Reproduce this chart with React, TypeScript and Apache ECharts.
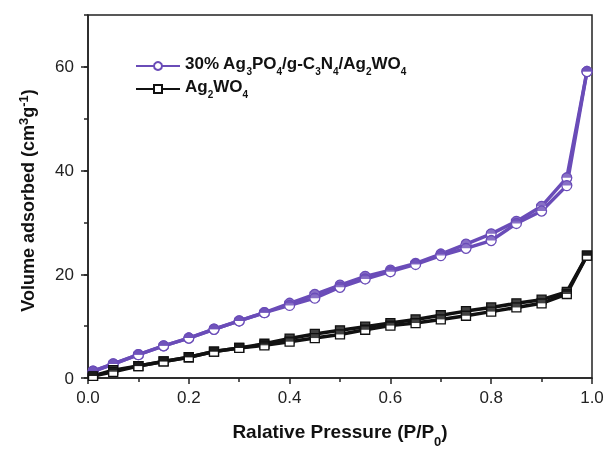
import React, { useEffect, useRef } from "react";
import * as echarts from "echarts";

const pressure = [0.01, 0.05, 0.1, 0.15, 0.2, 0.25, 0.3, 0.35, 0.4, 0.45, 0.5, 0.55, 0.6, 0.65, 0.7, 0.75, 0.8, 0.85, 0.9, 0.95, 0.99];
const compositeUpper = [1.3, 2.7, 4.5, 6.2, 7.7, 9.4, 11.0, 12.6, 14.4, 16.1, 17.9, 19.6, 20.8, 22.1, 23.9, 25.8, 27.8, 30.2, 33.1, 38.6, 59.1];
const compositeLower = [1.3, 2.7, 4.5, 6.2, 7.7, 9.4, 11.0, 12.6, 14.0, 15.4, 17.5, 19.1, 20.5, 21.9, 23.6, 25.0, 26.5, 29.8, 32.2, 37.1, 59.1];
const agwoUpper = [0.4, 1.5, 2.3, 3.2, 4.0, 5.1, 5.8, 6.6, 7.6, 8.5, 9.2, 9.9, 10.6, 11.3, 12.1, 12.9, 13.6, 14.4, 15.1, 16.6, 23.6];
const agwoLower = [0.4, 1.2, 2.3, 3.2, 4.0, 5.1, 5.8, 6.3, 7.0, 7.7, 8.4, 9.3, 10.1, 10.6, 11.3, 12.0, 12.8, 13.6, 14.4, 16.2, 23.6];
const xTicks = [0, 0.2, 0.4, 0.6, 0.8, 1.0];
const yTicks = [0, 20, 40, 60];

const NAME_A = "composite";
const NAME_B = "agwo";
const PURPLE = "#6a4cb8";
const BLACK = "#111111";
const FONT = "Liberation Sans, Arial, sans-serif";

const pairs = (ys: number[]) => pressure.map((x, i) => [x, ys[i]]);

export default function App() {
  const ref = useRef<HTMLDivElement>(null);
  useEffect(() => {
    if (!ref.current) return;
    const chart = echarts.init(ref.current, undefined, { renderer: "svg" });
    const lineSeries = (name: string, ys: number[], color: string, symbol: string, size: number) => ({
      type: "line",
      name,
      data: pairs(ys),
      symbol,
      symbolSize: size,
      showSymbol: true,
      lineStyle: { color, width: 3.5 },
      itemStyle: { color: "#ffffff", borderColor: color, borderWidth: 1.3 },
      z: 2,
    });
    const fillSeries = (name: string, ys: number[], color: string, symbol: string, w: number) => ({
      type: "scatter",
      name,
      data: pairs(ys),
      symbol,
      symbolSize: [w, w / 2],
      symbolOffset: [0, -w / 4],
      symbolKeepAspect: false,
      itemStyle: { color },
      z: 3,
      silent: true,
    });
    const halfDisk = "path://M0,5 A5,5 0 0 1 10,5 Z";
    const labelStyle = { fontSize: 17, color: "#222", fontFamily: FONT };
    const axisLineStyle = { color: "#222", width: 1.5 };
    chart.setOption({
      animation: false,
      grid: { left: 88, right: 16, top: 15, bottom: 66, show: true, borderColor: "#222", borderWidth: 1.5, containLabel: false },
      legend: {
        data: [NAME_A, NAME_B],
        orient: "vertical",
        left: 130,
        top: 50,
        itemWidth: 44,
        itemHeight: 10,
        itemGap: 2,
        formatter: (n: string) =>
          n === NAME_A
            ? "{b|30% Ag}{s|3}{b|PO}{s|4}{b|/g-C}{s|3}{b|N}{s|4}{b|/Ag}{s|2}{b|WO}{s|4}"
            : "{b|Ag}{s|2}{b|WO}{s|4}",
        textStyle: {
          rich: {
            b: { fontSize: 17, fontWeight: "bold", color: "#111", fontFamily: FONT, lineHeight: 20, padding: [0, 0, 4, 0], verticalAlign: "bottom" },
            s: { fontSize: 10, fontWeight: "bold", color: "#111", fontFamily: FONT, lineHeight: 12, verticalAlign: "bottom" },
          },
        },
      },
      xAxis: {
        type: "value",
        min: 0,
        max: 1,
        interval: 0.2,
        axisLine: { show: true, lineStyle: axisLineStyle },
        axisTick: { show: true, length: 6, lineStyle: axisLineStyle, customValues: xTicks },
        minorTick: { show: true, splitNumber: 2, length: 4, lineStyle: axisLineStyle },
        splitLine: { show: false },
        axisLabel: { ...labelStyle, margin: 11, formatter: (v: number) => v.toFixed(1), customValues: xTicks },
        name: "Ralative Pressure (P/P{s|0})",
        nameLocation: "middle",
        nameGap: 42,
        nameTextStyle: {
          fontSize: 19,
          fontWeight: "bold",
          color: "#111",
          fontFamily: FONT,
          lineHeight: 22,
          rich: {
            s: { fontSize: 13, fontWeight: "bold", color: "#111", fontFamily: FONT, lineHeight: 12, verticalAlign: "bottom", padding: [0, 0, -6, 0] },
          },
        },
      },
      yAxis: [
        {
          type: "value",
          min: 0,
          max: 70,
          interval: 20,
          axisLine: { show: true, lineStyle: axisLineStyle },
          axisTick: { show: true, length: 7, lineStyle: axisLineStyle, customValues: yTicks },
          splitLine: { show: false },
          axisLabel: { ...labelStyle, margin: 14, customValues: yTicks },
          name: "Volume adsorbed (cm{sup|3}g{sup|-1})",
          nameLocation: "middle",
          nameGap: 50,
          nameTextStyle: {
            fontSize: 18,
            fontWeight: "bold",
            color: "#111",
            fontFamily: FONT,
            padding: [0, 8, 0, 0],
            rich: {
              sup: { fontSize: 13, fontWeight: "bold", color: "#111", fontFamily: FONT, verticalAlign: "top", padding: [0, 0, 8, 0] },
            },
          },
        },
        {
          type: "value",
          min: 0,
          max: 70,
          interval: 10,
          position: "left",
          axisLine: { show: false },
          axisTick: { show: true, length: 4, lineStyle: axisLineStyle },
          splitLine: { show: false },
          axisLabel: { show: false },
        },
      ],
      series: [
        lineSeries(NAME_A, compositeUpper, PURPLE, "circle", 10),
        lineSeries(NAME_A, compositeLower, PURPLE, "circle", 10),
        lineSeries(NAME_B, agwoUpper, BLACK, "rect", 9),
        lineSeries(NAME_B, agwoLower, BLACK, "rect", 9),
        fillSeries("fa1", compositeUpper, PURPLE, halfDisk, 10),
        fillSeries("fa2", compositeLower, PURPLE, halfDisk, 10),
        fillSeries("fb1", agwoUpper, BLACK, "rect", 9),
        fillSeries("fb2", agwoLower, BLACK, "rect", 9),
      ],
    });
    return () => chart.dispose();
  }, []);
  return <div ref={ref} style={{ width: 608, height: 453, position: "fixed", left: 0, top: 0 }} />;
}
